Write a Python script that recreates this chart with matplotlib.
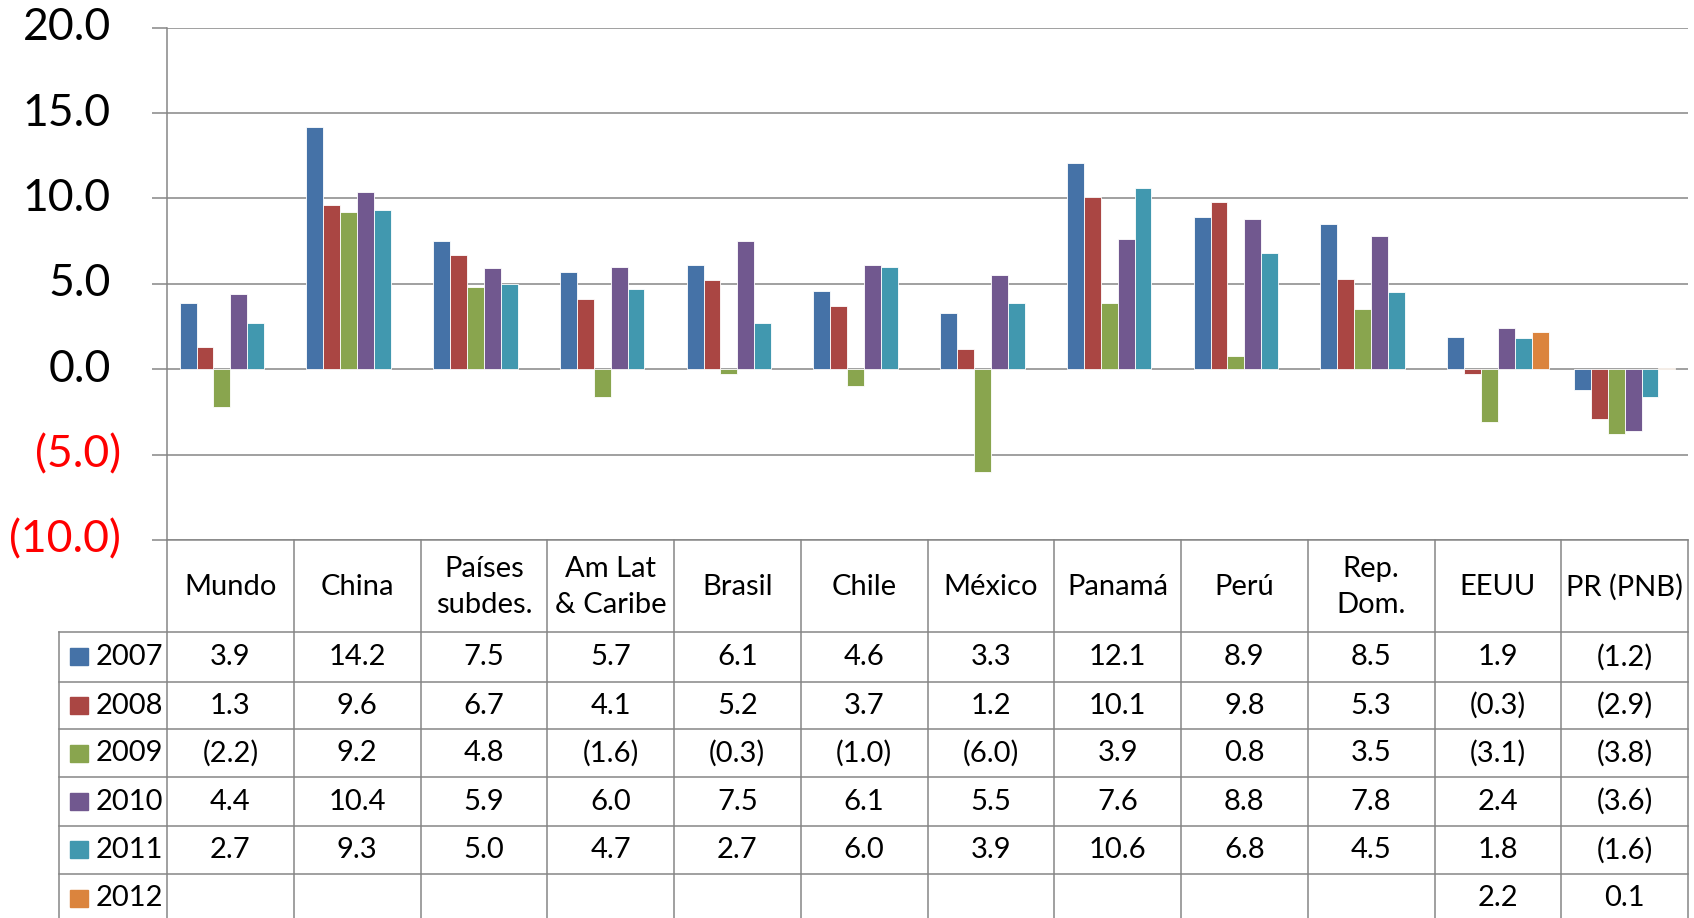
import numpy as np
import matplotlib
matplotlib.use("Agg")
import matplotlib.pyplot as plt
import matplotlib.transforms as mtransforms

plt.rcParams['font.family'] = ['Lato', 'DejaVu Sans']

categories = ["Mundo", "China", "Países\nsubdes.", "Am Lat\n& Caribe", "Brasil", "Chile",
              "México", "Panamá", "Perú", "Rep.\nDom.", "EEUU", "PR (PNB)"]
years = ["2007", "2008", "2009", "2010", "2011", "2012"]
nan = np.nan
v2007 = [3.9, 14.2, 7.5, 5.7, 6.1, 4.6, 3.3, 12.1, 8.9, 8.5, 1.9, -1.2]
v2008 = [1.3, 9.6, 6.7, 4.1, 5.2, 3.7, 1.2, 10.1, 9.8, 5.3, -0.3, -2.9]
v2009 = [-2.2, 9.2, 4.8, -1.6, -0.3, -1.0, -6.0, 3.9, 0.8, 3.5, -3.1, -3.8]
v2010 = [4.4, 10.4, 5.9, 6.0, 7.5, 6.1, 5.5, 7.6, 8.8, 7.8, 2.4, -3.6]
v2011 = [2.7, 9.3, 5.0, 4.7, 2.7, 6.0, 3.9, 10.6, 6.8, 4.5, 1.8, -1.6]
v2012 = [nan, nan, nan, nan, nan, nan, nan, nan, nan, nan, 2.2, 0.1]
series = [v2007, v2008, v2009, v2010, v2011, v2012]
colors = ["#4572A7", "#AA4643", "#89A54E", "#71588F", "#4198AF", "#DB843D"]
yticks = [20, 15, 10, 5, 0, -5, -10]

W, H = 1694, 918
fig = plt.figure(figsize=(W / 100, H / 100), dpi=100)
GRAY = "#868686"

# main plot axes (pixel layout)
ax_l, ax_r, ax_t, ax_b = 167, 1688, 27.7, 540
ax = fig.add_axes([ax_l / W, (H - ax_b) / H, (ax_r - ax_l) / W, (ax_b - ax_t) / H])
n = len(categories)
x = np.arange(n)
nser = len(series)
bw = 1.0 / (nser + 1.5)
for i, (vals, c) in enumerate(zip(series, colors)):
    ax.bar(x + (i - (nser - 1) / 2) * bw, vals, width=bw, color=c,
           edgecolor="white", linewidth=0.6, zorder=3)
ax.set_xlim(-0.5, n - 0.5)
ax.set_ylim(-10, 20)
ax.set_yticks(yticks)
ax.set_yticklabels([])
ax.set_xticks([])
ax.tick_params(axis='y', length=10.8, width=1.1, color=GRAY, direction='out')
for s in ["top", "right"]:
    ax.spines[s].set_visible(False)
for s in ["left", "bottom"]:
    ax.spines[s].set_color(GRAY)
    ax.spines[s].set_linewidth(1.1)
ax.yaxis.grid(True, color=GRAY, linewidth=1.1, zorder=0)
ax.set_axisbelow(True)

# y tick labels, Excel format 0.0_);[Red](0.0)
trans = mtransforms.blended_transform_factory(fig.transFigure, ax.transData)
for t in yticks:
    if t < 0:
        ax.text(121 / W, t, "(%.1f)" % abs(t), color="#FF0000", fontsize=32,
                ha="right", va="center", transform=trans)
    else:
        ax.text(111 / W, t, "%.1f" % t, color="black", fontsize=32,
                ha="right", va="center", transform=trans)

# data table
leg_l = 59
tab = fig.add_axes([leg_l / W, 0, (ax_r - leg_l) / W, (H - ax_b) / H])
cw = (ax_r - ax_l) / n
tab.set_xlim(-0.5 - (ax_l - leg_l) / cw, n - 0.5)
tab.set_ylim(H, ax_b)
tab.axis("off")
lx = -0.5 - (ax_l - leg_l) / cw
row_edges = [632, 681.7, 729.3, 777.3, 825.7, 874, 922]
lk = dict(color=GRAY, linewidth=1.1, clip_on=False)
for k in range(n + 1):
    tab.plot([k - 0.5, k - 0.5], [ax_b, H], **lk)
tab.plot([lx, lx], [row_edges[0], H], **lk)
for yv in row_edges[:-1]:
    tab.plot([lx, n - 0.5], [yv, yv], **lk)

for j, cat in enumerate(categories):
    tab.text(j, (ax_b + row_edges[0]) / 2 + 1, cat, ha="center", va="center",
             fontsize=21, linespacing=1.5)

def fmt(v):
    if np.isnan(v):
        return ""
    return "(%.1f)" % abs(v) if v < 0 else "%.1f" % v

for i, (yr, vals, c) in enumerate(zip(years, series, colors)):
    yc = (row_edges[i] + row_edges[i + 1]) / 2
    if yc > H:
        continue
    sq_x0 = lx + (70 - leg_l) / cw
    tab.add_patch(plt.Rectangle((sq_x0, yc - 8.5), 18 / cw, 17, color=c, clip_on=False))
    tab.text(lx + (96 - leg_l) / cw, yc, yr, ha="left", va="center", fontsize=21)
    for j, v in enumerate(vals):
        tab.text(j, yc, fmt(v), ha="center", va="center", fontsize=21)

fig.savefig("out.png", dpi=100)
